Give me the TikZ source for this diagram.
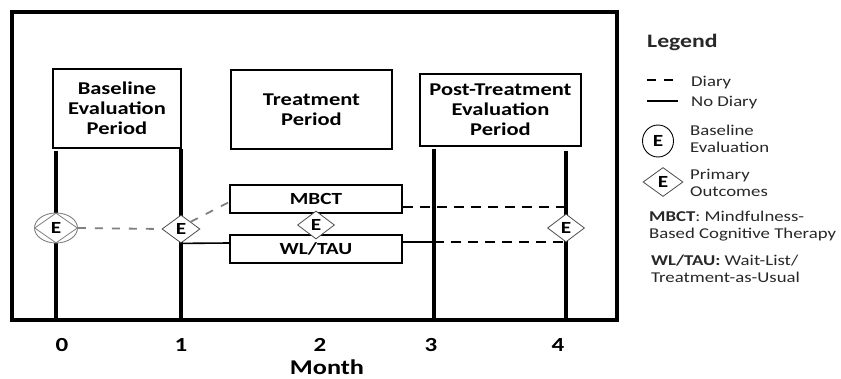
\documentclass[tikz,border=0pt]{standalone}
\usepackage{fontspec}
\setmainfont[FakeStretch=1.25]{Carlito}
\usetikzlibrary{shapes.geometric,calc}
\definecolor{dgray}{RGB}{128,128,128}
\definecolor{ltext}{RGB}{40,40,40}
\begin{document}
\begin{tikzpicture}[x=1pt,y=-1pt,
  period/.style={draw, line width=1.1pt, fill=white, align=center, inner sep=0pt,
    font=\bfseries\fontsize{18}{20}\selectfont},
  grp/.style={draw, line width=1.5pt, inner sep=0pt, minimum width=172, minimum height=28,
    font=\bfseries\fontsize{17}{18}\selectfont},
  ediam/.style={diamond, draw=black!70, line width=0.8pt, fill=white, inner sep=0pt,
    minimum width=38, minimum height=28, font=\bfseries\fontsize{17}{17}\selectfont},
  vline/.style={line width=3.4pt},
  conn/.style={line width=1.6pt},
  bdash/.style={line width=1.6pt, dash pattern=on 10pt off 7pt},
  gdash/.style={line width=1.8pt, dgray, dash pattern=on 8pt off 9pt},
  axl/.style={font=\bfseries\fontsize{20}{20}\selectfont, inner sep=0pt},
  ltxt/.style={anchor=west, align=left, inner sep=0pt, text=ltext,
    font=\fontsize{15}{17}\selectfont}
]
\useasboundingbox (0,0) rectangle (841,379);
\fill[white] (0,0) rectangle (841,379);
% frame
\draw[line width=3.2pt] (12,12) rectangle (617,320);
% period boxes
\node[period, minimum width=128, minimum height=79] (base) at (117,108.5) {Baseline\\Evaluation\\Period};
\node[period, minimum width=161, minimum height=79] (treat) at (311.5,109.5) {Treatment\\Period};
\node[period, minimum width=161, minimum height=72] (post) at (500.5,110) {Post-Treatment\\Evaluation\\Period};
% group boxes
\node[grp] (mbct) at (316,199) {MBCT};
\node[grp] (wl) at (316,249) {WL/TAU};
% axis coordinates
\coordinate (ax0) at (56,320);
\coordinate (ax1) at (181,320);
\coordinate (ax3) at (434,320);
\coordinate (ax4) at (566,320);
% vertical lines
\draw[vline] ($(ax0 |- base.south)+(0,2)$) -- (ax0);
\draw[vline] (ax1 |- base.south) -- (ax1);
\draw[vline] ($(ax3 |- post.south)+(0,2)$) -- (ax3);
\draw[vline] ($(ax4 |- post.south)+(0,4)$) -- (ax4);
% evaluation markers
\node[ellipse, draw=dgray, line width=0.9pt, fill=white, minimum width=43, minimum height=30, inner sep=0pt] (e0c) at (56,228) {};
\node[ediam, draw=dgray, minimum width=43, minimum height=30] (e0) at (56,228) {E};
\node[ediam] (e1) at (181,229) {E};
\node[ediam, minimum width=37] (e2) at (316,225) {E};
\node[ediam, minimum width=37] (e4) at (566,228) {E};
% connectors
\draw[gdash] (e0c.east) -- (e1.west);
\draw[gdash] (e1.north east) -- ($(mbct.west)+(0,3)$);
\draw[conn] (e1.south) -- ($(wl.west)+(0,-6)$);
\draw[bdash] ($(mbct.east)+(0,8)$) coordinate (m1) -- (m1 -| ax4);
\draw[conn] ($(wl.east)+(0,-7)$) coordinate (w1) -- (w1 -| ax3) coordinate (w3);
\draw[bdash] (w3) -- (w3 -| ax4);
% axis labels
\node[axl] (l0) at (62,345) {0};
\node[axl] (l1) at (181,345) {1};
\node[axl] (l2) at (320,345) {2};
\node[axl] (l3) at (431,345) {3};
\node[axl] (l4) at (558,345) {4};
\node[font=\bfseries\fontsize{21}{21}\selectfont, inner sep=0pt] (month) at (327,367) {Month};
% legend
\node[anchor=west, inner sep=0pt, font=\bfseries\fontsize{19}{19}\selectfont, text=ltext] (leg) at (647,42) {Legend};
\coordinate (ld1) at (647,80); \coordinate (ld2) at (675,80);
\draw[line width=1.2pt, dash pattern=on 9pt off 8pt] (ld1) -- (ld2);
\coordinate (ls1) at (647,101); \coordinate (ls2) at (678,101);
\draw[line width=1.6pt] (ls1) -- (ls2);
\node[ltxt] (tdiary) at (691,83) {Diary};
\node[ltxt] (tnodiary) at (691,103) {No Diary};
\node[ellipse, draw, line width=0.9pt, minimum width=31, minimum height=32, inner sep=0pt,
  font=\bfseries\fontsize{17}{17}\selectfont] (le) at (658,141) {E};
\node[ltxt] (tbase) at (690,139) {Baseline\\Evaluation};
\node[ediam, minimum width=40, minimum height=29] (ld) at (663,182) {E};
\node[ltxt] (tprim) at (690,183) {Primary\\Outcomes};
\node[ltxt] (tmbct) at (649,226) {\textbf{MBCT}: Mindfulness-\\Based Cognitive Therapy};
\node[ltxt] (twl) at (651,269) {\textbf{WL/TAU:} Wait-List/\\Treatment-as-Usual};
\end{tikzpicture}
\end{document}
